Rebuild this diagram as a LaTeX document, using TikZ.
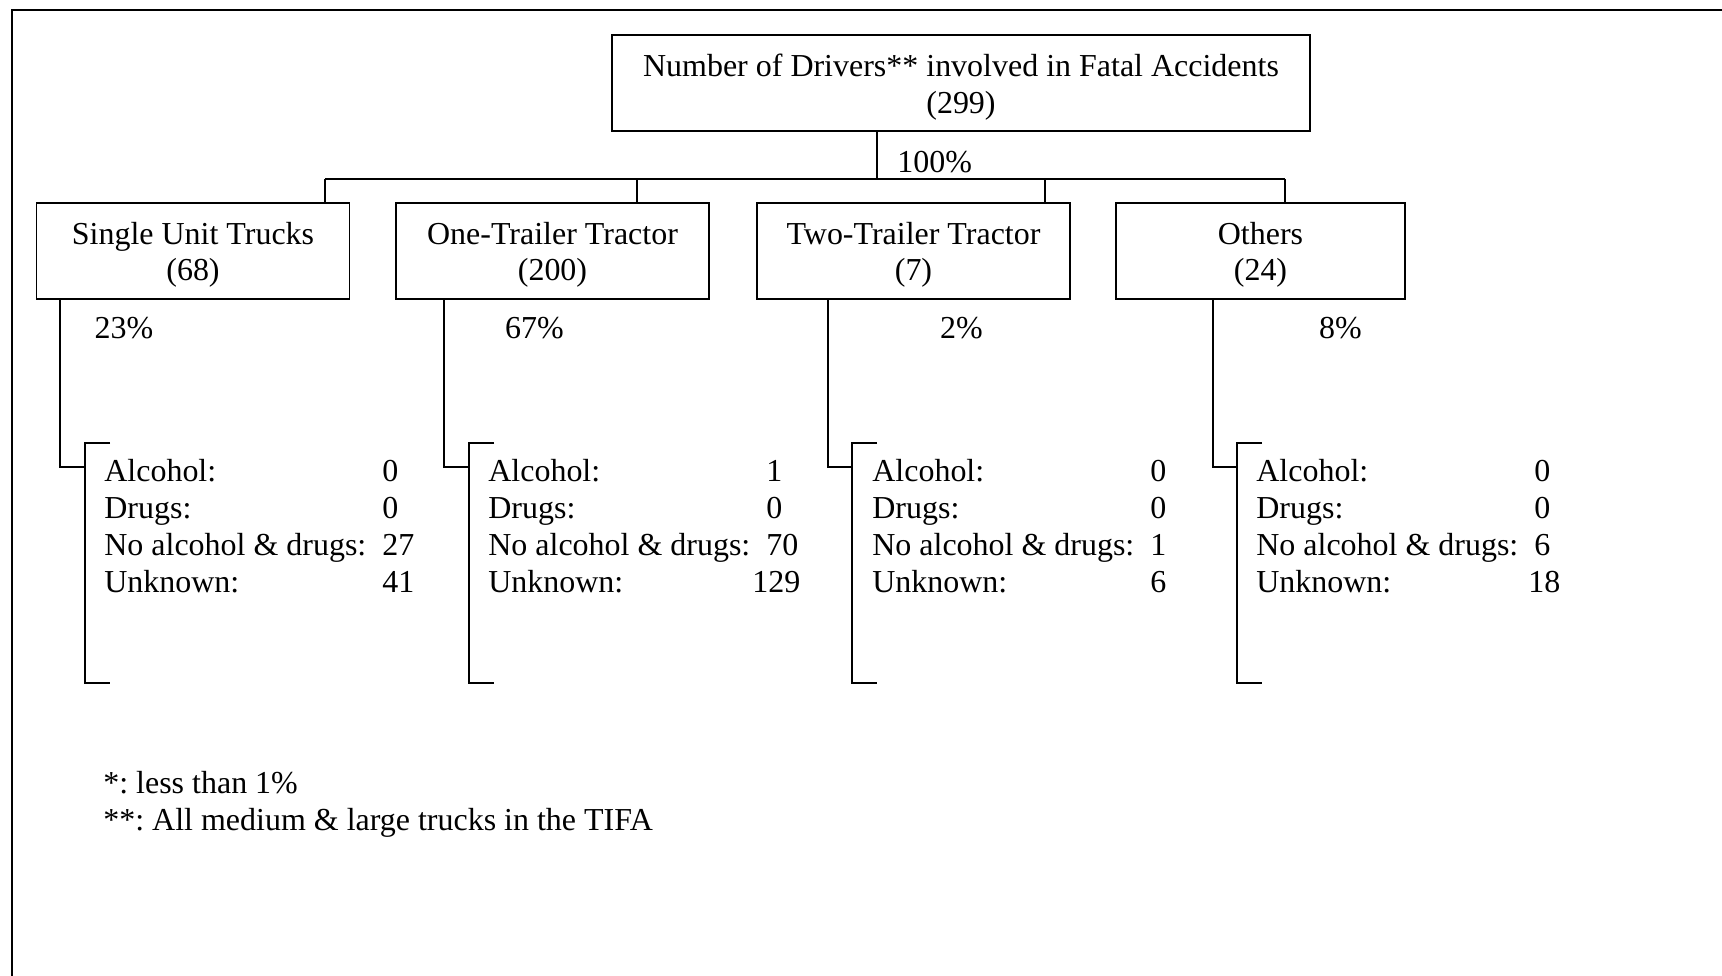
\documentclass[tikz,border=0pt]{standalone}
\usepackage{fontspec}
\setmainfont{Liberation Serif}
\usetikzlibrary{positioning,calc}
\newcommand{\lift}[1]{\rule{0pt}{#1}}

\begin{document}
\frenchspacing
\begin{tikzpicture}[
  x=0.02cm, y=-0.02cm,
  font=\fontsize{18.2}{21}\selectfont,
  box/.style={draw, line width=1pt, align=center, minimum height=1.92cm, minimum width=6.26cm, inner sep=0pt},
  wire/.style={line width=1pt},
  frame/.style={line width=1.6pt},
  pct/.style={inner sep=0pt},
  tally/.style={anchor=base west, inner sep=0pt}
]
  \useasboundingbox (0,0) rectangle (1722,976);
  % Rahmen (nur links und oben sichtbar)
  \draw[frame] (12,976) -- (12,10) -- (1722,10);

  % Gesamtzahl
  \node[box, minimum width=13.96cm] (total) at (961,83)
    {\lift{18pt}Number of Drivers** involved in Fatal Accidents\\(299)};
  % Fahrzeugklassen
  \node[box] (single) at (193,251) {\lift{17pt}Single Unit Trucks\\(68)};
  \node[box] (onetr)  at (552.5,251) {\lift{17pt}One-Trailer Tractor\\(200)};
  \node[box] (twotr)  at (913.5,251) {\lift{17pt}Two-Trailer Tractor\\(7)};
  \node[box, minimum width=5.78cm] (others) at (1260.5,251) {\lift{17pt}Others\\(24)};

  % Verteiler
  \coordinate (hub)     at (877,179);
  \coordinate (dSingle) at (325,179);
  \coordinate (dOne)    at (637,179);
  \coordinate (dTwo)    at (1045,179);
  \coordinate (dOthers) at (1285,179);
  \draw[wire] (total.south -| hub) -- (hub);
  \draw[wire] (dSingle) -- (dOthers);
  \draw[wire] (dSingle) -- (dSingle |- single.north);
  \draw[wire] (dOne) -- (dOne |- onetr.north);
  \draw[wire] (dTwo) -- (dTwo |- twotr.north);
  \draw[wire] (dOthers) -- (dOthers |- others.north);
  \node[pct, anchor=west] (pTotal) at (897,162) {100\%};

  % Anteile
  \node[pct] (pSingle) at (124,328)  {23\%};
  \node[pct] (pOne)    at (534.5,328) {67\%};
  \node[pct] (pTwo)    at (961.5,328) {2\%};
  \node[pct] (pOthers) at (1340.5,328) {8\%};

  % Klammern
  \coordinate (kSingle) at (85,467);
  \coordinate (kOne)    at (469,467);
  \coordinate (kTwo)    at (852,467);
  \coordinate (kOthers) at (1237,467);
  \draw[wire] ($(single.south west)+(24,0)$) |- (kSingle);
  \draw[wire] ($(onetr.south west)+(49,0)$) |- (kOne);
  \draw[wire] ($(twotr.south west)+(72,0)$) |- (kTwo);
  \draw[wire] ($(others.south west)+(98,0)$) |- (kOthers);
  \draw[wire] ($(kSingle)+(25,-24)$) -- ++(-25,0) -- ++(0,240) -- ++(25,0);
  \draw[wire] ($(kOne)+(25,-24)$) -- ++(-25,0) -- ++(0,240) -- ++(25,0);
  \draw[wire] ($(kTwo)+(25,-24)$) -- ++(-25,0) -- ++(0,240) -- ++(25,0);
  \draw[wire] ($(kOthers)+(25,-24)$) -- ++(-25,0) -- ++(0,240) -- ++(25,0);

  % Aufschluesselung
  \node[tally] (lSingle) at (104,482) {\begin{tabular}[t]{@{}p{5.56cm}@{}l@{}}
    Alcohol: & 0\\ Drugs: & 0\\ No alcohol \& drugs: & 27\\ Unknown: & 41\end{tabular}};
  \node[tally] (lOne) at (488,482) {\begin{tabular}[t]{@{}p{5.56cm}@{}l@{}}
    Alcohol: & 1\\ Drugs: & 0\\ No alcohol \& drugs: & 70\\ Unknown: & \hspace*{-0.28cm}129\end{tabular}};
  \node[tally] (lTwo) at (872,482) {\begin{tabular}[t]{@{}p{5.56cm}@{}l@{}}
    Alcohol: & 0\\ Drugs: & 0\\ No alcohol \& drugs: & 1\\ Unknown: & 6\end{tabular}};
  \node[tally] (lOthers) at (1256,482) {\begin{tabular}[t]{@{}p{5.56cm}@{}l@{}}
    Alcohol: & 0\\ Drugs: & 0\\ No alcohol \& drugs: & 6\\ Unknown: & \hspace*{-0.12cm}18\end{tabular}};

  % Fussnoten
  \node[anchor=west, align=left, inner sep=0pt] (notes) at (103,804)
    {*: less than 1\%\\**: All medium \& large trucks in the TIFA};
\end{tikzpicture}
\end{document}
